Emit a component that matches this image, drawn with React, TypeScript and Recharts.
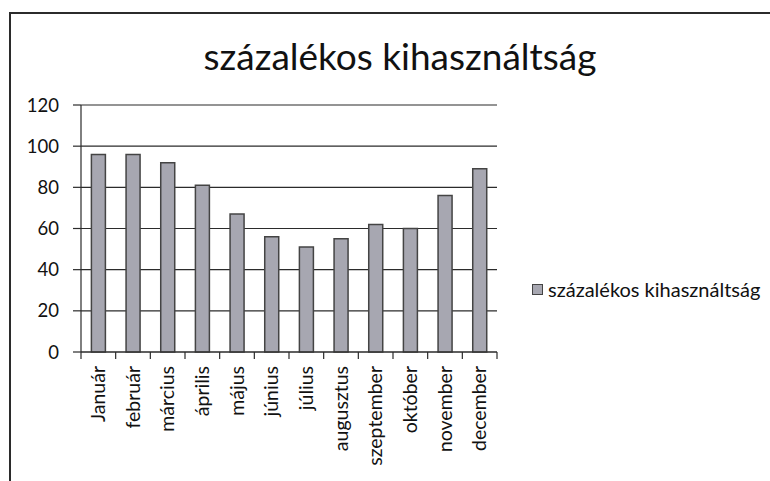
import { Bar, BarChart, CartesianGrid, XAxis, YAxis } from "recharts";

const months = [
  "Január",
  "február",
  "március",
  "április",
  "május",
  "június",
  "július",
  "augusztus",
  "szeptember",
  "október",
  "november",
  "december",
];
const usage = [96, 96, 92, 81, 67, 56, 51, 55, 62, 60, 76, 89];
const yTicks = [0, 20, 40, 60, 80, 100, 120];
const seriesName = "százalékos kihasználtság";

const data = months.map((month, i) => ({ month, value: usage[i] }));

const W = 770;
const H = 481;
const xAxisHeight = 129;
const margin = { top: 105, right: 273, bottom: 0, left: 21 };
const yAxisWidth = 60;
const plotWidth = W - margin.left - margin.right - yAxisWidth;
const band = plotWidth / months.length;

const font = "Lato, 'Open Sans', sans-serif";
const ink = "#2b2b2b";
const barFill = "#a7a7b1";

// Excel puts the x tick marks between categories, so draw them from the label tick
function MonthTick(props: any) {
  const { x, y, payload, index } = props;
  const ty = y + 14;
  return (
    <g>
      {index === 0 && (
        <line x1={x - band / 2} x2={x - band / 2} y1={y} y2={y + 7} stroke={ink} strokeWidth={1.2} />
      )}
      <line x1={x + band / 2} x2={x + band / 2} y1={y} y2={y + 7} stroke={ink} strokeWidth={1.2} />
      <text
        x={x}
        y={ty}
        transform={`rotate(-90, ${x}, ${ty})`}
        textAnchor="end"
        dominantBaseline="central"
        dy={-1}
        fill="#111"
        fontSize={19.5}
        fontFamily={font}
      >
        {payload.value}
      </text>
    </g>
  );
}

export default function App() {
  return (
    <div style={{ position: "absolute", left: 0, top: 0, width: W, height: H, background: "#fff" }}>
      <div
        style={{
          position: "absolute",
          left: 9,
          top: 12,
          width: W - 9,
          height: H - 12,
          borderTop: `2px solid ${ink}`,
          borderLeft: `2px solid ${ink}`,
          boxSizing: "border-box",
        }}
      />
      <div
        style={{
          position: "absolute",
          left: 0,
          width: 800,
          top: 33,
          textAlign: "center",
          fontFamily: font,
          fontSize: 37,
          color: "#111",
          whiteSpace: "nowrap",
        }}
      >
        {seriesName}
      </div>
      <div
        style={{
          position: "absolute",
          left: 532,
          top: 277,
          display: "flex",
          alignItems: "center",
          fontFamily: font,
          fontSize: 20,
          color: "#111",
          whiteSpace: "nowrap",
        }}
      >
        <span
          style={{
            display: "inline-block",
            width: 9,
            height: 9,
            background: barFill,
            border: "1.5px solid #444",
            marginRight: 5,
          }}
        />
        {seriesName}
      </div>
      <BarChart
        width={W}
        height={H}
        data={data}
        margin={margin}
        barCategoryGap="30%"
        style={{ position: "absolute", left: 0, top: 0 }}
      >
        <CartesianGrid vertical={false} stroke={ink} strokeWidth={1.2} />
        <XAxis
          dataKey="month"
          interval={0}
          tickLine={false}
          tickSize={0}
          tickMargin={0}
          axisLine={{ stroke: ink, strokeWidth: 1.2 }}
          tick={<MonthTick />}
          height={xAxisHeight}
        />
        <YAxis
          domain={[0, 120]}
          ticks={yTicks}
          interval={0}
          width={yAxisWidth}
          tickSize={8}
          tickMargin={14}
          tickLine={{ stroke: ink, strokeWidth: 1.2 }}
          axisLine={{ stroke: ink, strokeWidth: 1.2 }}
          tick={{ fill: "#111", fontSize: 18.5, fontFamily: font }}
        />
        <Bar
          dataKey="value"
          name={seriesName}
          fill={barFill}
          stroke="#444"
          strokeWidth={1.5}
          isAnimationActive={false}
        />
      </BarChart>
    </div>
  );
}
